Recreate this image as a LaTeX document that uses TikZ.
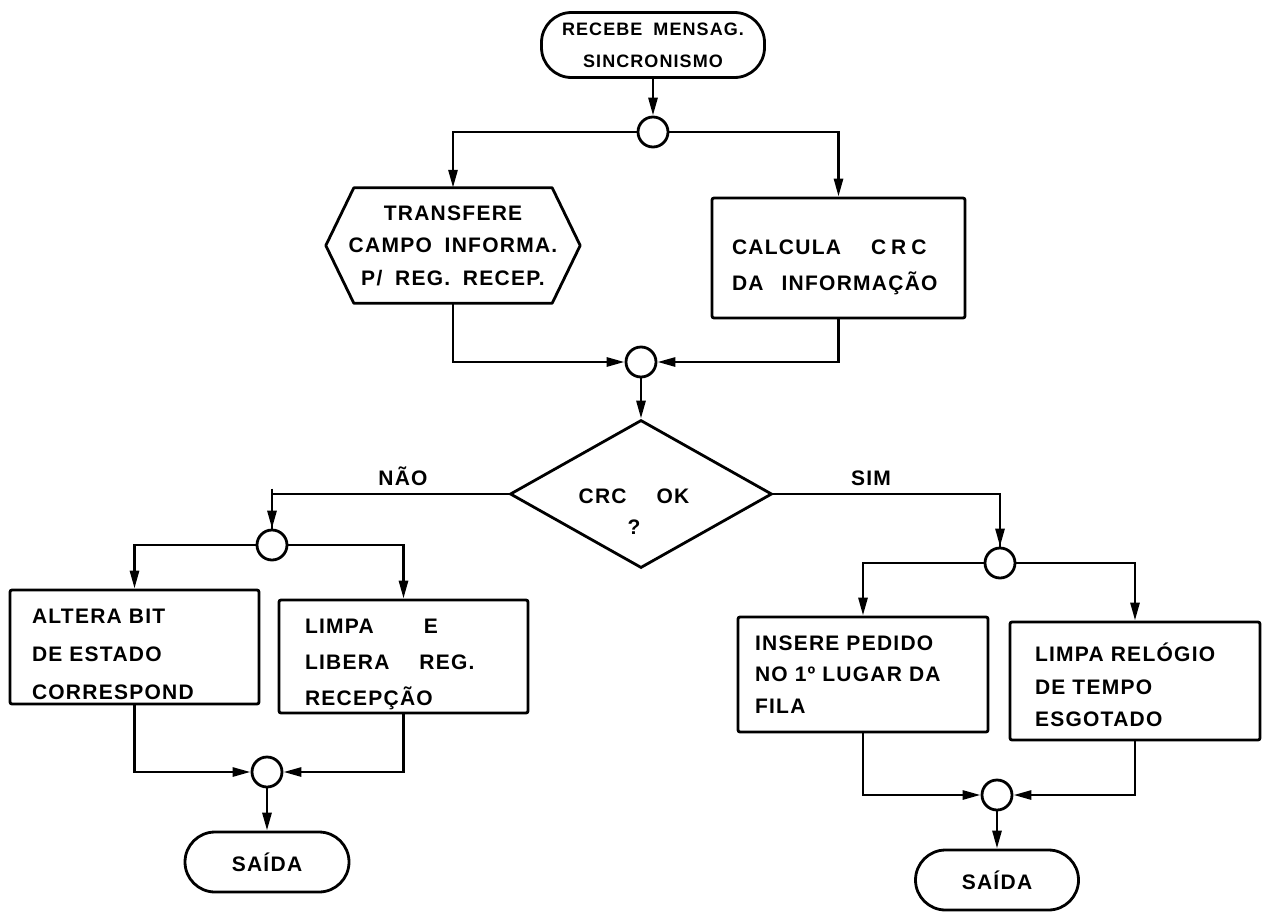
\documentclass[tikz,border=0pt]{standalone}
\usepackage{fontspec}
\setmainfont{Liberation Sans}[LetterSpace=6,WordSpace=1.8]
\usetikzlibrary{arrows.meta,shapes.geometric,calc}
% invisible strut that pushes a text block down inside its box
\newcommand\topstrut[1]{\rule{0pt}{#1}}
\begin{document}
\begin{tikzpicture}[x=1pt,y=-1pt,
  every node/.style={font=\bfseries\fontsize{21}{34}\selectfont},
  lw/.style={line width=2.8pt},
  term/.style={draw,lw,rounded corners=30pt,align=center,inner sep=0pt},
  proc/.style={draw,lw,rounded corners=2pt,align=left,inner ysep=0pt},
  junc/.style={draw,lw,circle,minimum size=30pt,inner sep=0pt},
  flow/.style={lw,-{Triangle[length=18pt,width=9pt]}},
  lbl/.style={inner sep=0pt}
]
\fill[white] (0,0) rectangle (1263,913);
\useasboundingbox (0,0) rectangle (1263,913);

% start terminal and first split
\node[term,minimum width=223pt,minimum height=65pt,
      font=\bfseries\fontsize{18}{32}\selectfont] (start) at (653,45)
  {RECEBE MENSAG.\\SINCRONISMO};
\node[junc] (c1) at (653,132) {};

% hexagonal preparation box
\node[lbl,align=center,minimum width=254pt,minimum height=115pt,
      font=\bfseries\fontsize{21}{32.5}\selectfont] (hex) at (453,245.5)
  {TRANSFERE\\CAMPO INFORMA.\\P/ REG. RECEP.};
\draw[lw,line join=round] ($(hex.north west)+(28,0)$) -- ($(hex.north east)+(-28,0)$)
  -- (hex.east) -- ($(hex.south east)+(-28,0)$) -- ($(hex.south west)+(28,0)$)
  -- (hex.west) -- cycle;

\node[proc,text width=213pt,inner xsep=20pt,minimum height=120pt,
      font=\bfseries\fontsize{21}{36}\selectfont] (calc) at (838.5,258)
  {\topstrut{33pt}CALCULA\hspace{30pt}C\hspace{5pt}R\hspace{5pt}C\\DA\hspace{18pt}INFORMAÇÃO};

\node[junc] (c2) at (641,362) {};

% decision
\node[draw,lw,diamond,minimum width=262pt,minimum height=148pt,inner sep=0pt] (crc) at (641,494) {};
\node[lbl,align=center,font=\bfseries\fontsize{21}{31}\selectfont] (crct) at (634,512)
  {CRC\hspace{30pt}OK\\?};
\node[lbl] (nao) at (403,476) {NÃO};
\node[lbl] (sim) at (871,478) {SIM};

% NAO branch
\node[junc] (c3) at (272,545) {};
\node[proc,text width=205pt,inner xsep=22pt,minimum height=114pt,
      font=\bfseries\fontsize{21}{38}\selectfont] (alt) at (134.5,647)
  {\topstrut{30pt}ALTERA BIT\\DE ESTADO\\CORRESPOND};
\node[proc,text width=197pt,inner xsep=26pt,minimum height=113pt,
      font=\bfseries\fontsize{21}{36}\selectfont] (lib) at (403.5,656.5)
  {\topstrut{31pt}LIMPA\hspace{50pt}E\\LIBERA\hspace{30pt}REG.\\RECEPÇÃO};
\node[junc] (c5) at (267,772) {};
\node[term,minimum width=164pt,minimum height=60pt] (end1) at (267,862) {SAÍDA};

% SIM branch
\node[junc] (c4) at (1000,563) {};
\node[proc,text width=216pt,inner xsep=17pt,minimum height=115pt,
      font=\bfseries\fontsize{21}{31.5}\selectfont] (ins) at (863,674.5)
  {INSERE PEDIDO\\NO 1º LUGAR DA\\FILA};
\node[proc,text width=200pt,inner xsep=25pt,minimum height=118pt,
      font=\bfseries\fontsize{21}{32.5}\selectfont] (rel) at (1135,681)
  {\topstrut{27pt}LIMPA RELÓGIO\\DE TEMPO\\ESGOTADO};
\node[junc] (c6) at (997,795) {};
\node[term,minimum width=163pt,minimum height=60pt] (end2) at (997,880) {SAÍDA};

% connectors
\draw[flow] (start.south) -- (c1.north);
\draw[flow] (c1.west) -| (hex.north);
\draw[flow] (c1.east) -| (calc.north);
\draw[flow] (hex.south) |- (c2.west);
\draw[flow] (calc.south) |- (c2.east);
\draw[flow] (c2.south) -- (crc.north);
\draw[lw] (crc.west) -| (c3.north);
\draw[flow] ($(c3.north)+(0,-40)$) -- (c3.north);
\draw[lw] (crc.east) -| (c4.north);
\draw[flow] ($(c4.north)+(0,-40)$) -- (c4.north);
\draw[flow] (c3.west) -| (alt.north);
\draw[flow] (c3.east) -| (lib.north);
\draw[flow] (alt.south) |- (c5.west);
\draw[flow] (lib.south) |- (c5.east);
\draw[flow] (c5.south) -- (end1.north);
\draw[flow] (c4.west) -| (ins.north);
\draw[flow] (c4.east) -| (rel.north);
\draw[flow] (ins.south) |- (c6.west);
\draw[flow] (rel.south) |- (c6.east);
\draw[flow] (c6.south) -- (end2.north);
\end{tikzpicture}
\end{document}
